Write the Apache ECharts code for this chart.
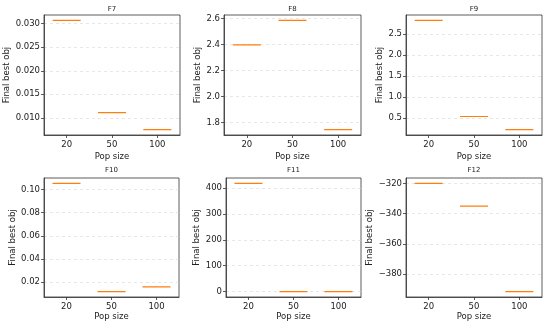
<!DOCTYPE html>
<html>
<head>
<meta charset="utf-8">
<script src="https://cdn.jsdelivr.net/npm/echarts@6/dist/echarts.min.js"></script>
<style>html,body{margin:0;padding:0;background:#fff}#c{width:550px;height:327px}</style>
</head>
<body>
<div id="c"></div>
<script>
// ---- data ----
const categories = ['20', '50', '100'];
const titles = ['F7', 'F8', 'F9', 'F10', 'F11', 'F12'];
const f7 = [0.0307, 0.0111, 0.0075];
const f8 = [2.396, 2.584, 1.746];
const f9 = [2.818, 0.531, 0.220];
const f10 = [0.1054, 0.0117, 0.0157];
const f11 = [417.7, 0.3, 0.2];
const f12 = [-320.0, -335.0, -391.7];
const ticks7 = [0.010, 0.015, 0.020, 0.025, 0.030];
const ticks8 = [1.8, 2.0, 2.2, 2.4, 2.6];
const ticks9 = [0.5, 1.0, 1.5, 2.0, 2.5];
const ticks10 = [0.02, 0.04, 0.06, 0.08, 0.10];
const ticks11 = [0, 100, 200, 300, 400];
const ticks12 = [-380, -360, -340, -320];
const tickDecimals = [3, 1, 1, 2, 0, 0];

const seriesData = [f7, f8, f9, f10, f11, f12];
const tickSets = [ticks7, ticks8, ticks9, ticks10, ticks11, ticks12];

// ---- layout ----
const grids = [
  {left: 44, top: 15, width: 136, height: 120},
  {left: 224, top: 15, width: 137, height: 120},
  {left: 406, top: 15, width: 136, height: 120},
  {left: 44, top: 178, width: 135, height: 119},
  {left: 226, top: 178, width: 135, height: 119},
  {left: 406, top: 178, width: 136, height: 119}
];
const yNameGaps = [31, 18, 21.5, 26, 25, 30];
const xNameGaps = [17, 17, 17, 14, 14, 14];
const xLabelMargins = [5, 5, 5, 5, 5, 5];
const titleOffsets = [9, 9, 9, 11, 11, 11];
const FONT = 'DejaVu Sans';
const TXT = '#222';

const option = {
  animation: false,
  backgroundColor: '#fff',
  title: [], grid: [], xAxis: [], yAxis: [], series: []
};

grids.forEach((g, i) => {
  const vals = seriesData[i];
  const mn = Math.min(...vals), mx = Math.max(...vals);
  const span = mx - mn;
  const dec = tickDecimals[i];
  option.grid.push(Object.assign({show: true, borderColor: '#333', borderWidth: 0.8, backgroundColor: '#fff'}, g));
  option.title.push({
    text: titles[i], left: g.left + g.width / 2, top: g.top - titleOffsets[i], textAlign: 'center', padding: 0,
    textStyle: {fontFamily: FONT, fontSize: 7, fontWeight: 'normal', color: TXT}
  });
  option.xAxis.push({
    type: 'category', gridIndex: i, data: categories, boundaryGap: true,
    name: 'Pop size', nameLocation: 'middle', nameGap: xNameGaps[i],
    nameTextStyle: {fontFamily: FONT, fontSize: 8.5, color: TXT},
    axisLine: {show: true, onZero: false, lineStyle: {color: '#333', width: 0.8}},
    axisTick: {show: true, alignWithLabel: true, interval: 0, length: 3, lineStyle: {color: '#333', width: 0.8}},
    axisLabel: {fontFamily: FONT, fontSize: 8.5, color: TXT, margin: xLabelMargins[i], interval: 0},
    splitLine: {show: false}
  });
  option.yAxis.push({
    type: 'value', gridIndex: i,
    min: mn - 0.05 * span, max: mx + 0.05 * span,
    name: 'Final best obj', nameLocation: 'middle', nameGap: yNameGaps[i], nameRotate: 90,
    nameTextStyle: {fontFamily: FONT, fontSize: 8.5, color: TXT},
    axisLine: {show: true, onZero: false, lineStyle: {color: '#333', width: 0.8}},
    axisTick: {show: true, length: 3, customValues: tickSets[i], lineStyle: {color: '#333', width: 0.8}},
    axisLabel: {
      fontFamily: FONT, fontSize: 8.5, color: TXT, margin: 4, customValues: tickSets[i],
      formatter: v => v.toFixed(dec).replace('-', '\u2212')
    },
    splitLine: {show: true, lineStyle: {color: '#d8d8d8', width: 0.6, type: [3, 3]}}
  });
  option.series.push({
    type: 'boxplot', xAxisIndex: i, yAxisIndex: i,
    boxWidth: [28, 28],
    data: vals.map(v => [v, v, v, v, v]),
    itemStyle: {color: 'rgba(0,0,0,0)', borderColor: '#ff7f0e', borderWidth: 1.2},
    emphasis: {disabled: true},
    silent: true
  });
});

const chart = echarts.init(document.getElementById('c'), null, {renderer: 'canvas'});
chart.setOption(option);
</script>
</body>
</html>
